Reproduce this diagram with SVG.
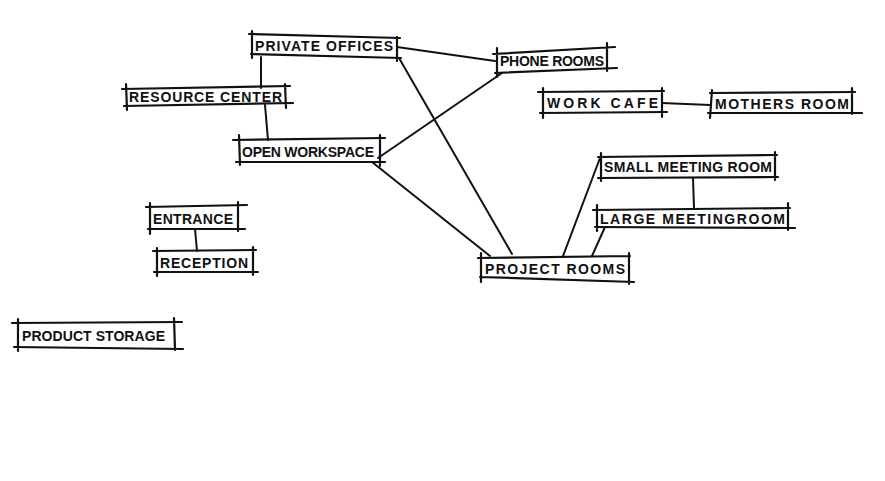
<svg xmlns="http://www.w3.org/2000/svg" width="885" height="481" viewBox="0 0 885 481">
<style>
.b{fill:none;stroke:#111;stroke-width:2.2;stroke-linecap:round}
.c{fill:none;stroke:#111;stroke-width:2;stroke-linecap:round}
text{font-family:"Liberation Sans",Arial,sans-serif;font-size:14px;font-weight:bold;fill:#111}
</style>
<rect width="885" height="481" fill="#fff"/>
<g id="connectors">
<path class="c" d="M261 57L261 88"/>
<path class="c" d="M265 105L268 140"/>
<path class="c" d="M397 47L495 61"/>
<path class="c" d="M399 58L512 254"/>
<path class="c" d="M378 158L502 73"/>
<path class="c" d="M372 162L490 256"/>
<path class="c" d="M563 256L600 158"/>
<path class="c" d="M592 256L605 227"/>
<path class="c" d="M693 178L694 208"/>
<path class="c" d="M662 103L710 105"/>
<path class="c" d="M195 229L197 251"/>
</g>
<g id="private-offices">
<path class="b" d="M249 34L400 38M251 54L401 58M252 31L252 58M397 37L397 61"/>
<text x="255" y="51" textLength="138">PRIVATE OFFICES</text>
</g>
<g id="resource-center">
<path class="b" d="M122 89L290 86M124 106L293 103M126 84L127 110M285 84L286 108"/>
<text x="129" y="102" textLength="153">RESOURCE CENTER</text>
</g>
<g id="open-workspace">
<path class="b" d="M233 140L385 138M236 162L385 162M239 135L240 165M380 135L380 166"/>
<text x="242" y="157" textLength="132">OPEN WORKSPACE</text>
</g>
<g id="phone-rooms">
<path class="b" d="M493 54L615 47M495 73L617 68M497 48L497 77M607 43L607 71"/>
<text x="500" y="66" textLength="104">PHONE ROOMS</text>
</g>
<g id="work-cafe">
<path class="b" d="M538 92L664 91M540 113L667 112M543 88L543 118M662 88L662 117"/>
<text x="547" y="108" textLength="111">WORK CAFE</text>
</g>
<g id="mothers-room">
<path class="b" d="M710 93L855 92M708 113L862 113M712 90L710 118M852 88L852 114"/>
<text x="715" y="109" textLength="134">MOTHERS ROOM</text>
</g>
<g id="small-meeting-room">
<path class="b" d="M598 157L777 155M598 178L778 177M601 153L601 181M775 152L775 180"/>
<text x="604" y="172" textLength="168">SMALL MEETING ROOM</text>
</g>
<g id="large-meetingroom">
<path class="b" d="M593 210L790 208M595 227L795 228M597 205L597 231M788 203L788 230"/>
<text x="600" y="224" textLength="185">LARGE MEETINGROOM</text>
</g>
<g id="project-rooms">
<path class="b" d="M478 258L630 256M480 277L634 282M481 253L481 282M629 253L629 284"/>
<text x="485" y="274" textLength="140">PROJECT ROOMS</text>
</g>
<g id="entrance">
<path class="b" d="M146 207L247 205M148 229L245 229M150 203L150 234M238 202L238 231"/>
<text x="153" y="224" textLength="80">ENTRANCE</text>
</g>
<g id="reception">
<path class="b" d="M153 251L256 250M154 272L258 272M157 248L157 276M253 247L253 275"/>
<text x="160" y="268" textLength="88">RECEPTION</text>
</g>
<g id="product-storage">
<path class="b" d="M12 323L182 322M14 347L183 349M18 319L18 351M174 318L175 350"/>
<text x="22" y="341" textLength="143">PRODUCT STORAGE</text>
</g>
</svg>
